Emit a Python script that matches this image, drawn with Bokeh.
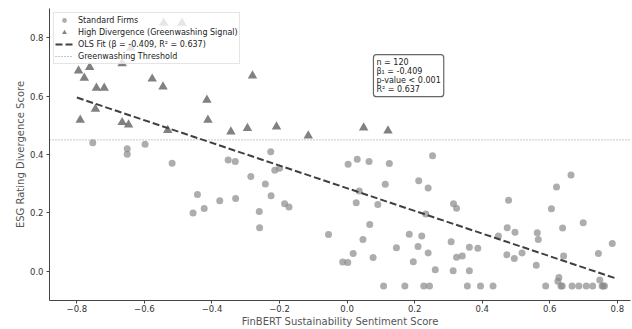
from bokeh.plotting import figure
from bokeh.models import Label, FixedTicker, CustomJSTickFormatter, Range1d
from bokeh.embed import file_html
from bokeh.resources import INLINE

# ---- data ----
std_x = [-0.753, -0.651, -0.651, -0.598, -0.518, -0.226, -0.352, -0.331, -0.214, -0.200,
         -0.285, -0.242, -0.225, -0.443, -0.456, -0.423, -0.377, -0.330, -0.260, -0.259,
         -0.185, -0.172,
         0.003, 0.030, 0.065, 0.125, 0.253,
         0.113, 0.036, 0.027, 0.091, 0.212, 0.240, 0.233, 0.315, 0.324,
         0.067, -0.055, 0.047, 0.018, -0.013, 0.002, 0.077, 0.146, 0.184, 0.221, 0.210, 0.240,
         0.196, 0.261, 0.314, 0.362,
         0.308, 0.362, 0.387, 0.324, 0.341,
         0.478, 0.474, 0.497, 0.448, 0.473, 0.495, 0.518,
         0.563, 0.566, 0.560, 0.605, 0.620, 0.663, 0.638, 0.699, 0.641, 0.627, 0.624, 0.744,
         0.785, 0.748,
         0.108, 0.171, 0.227, 0.244, 0.356, 0.395, 0.432, 0.588, 0.637, 0.633, 0.666, 0.686,
         0.708, 0.727, 0.758, 0.762, 0.755]
std_y = [0.440, 0.420, 0.401, 0.435, 0.370, 0.409, 0.381, 0.376, 0.346, 0.353,
         0.325, 0.299, 0.259, 0.263, 0.200, 0.215, 0.242, 0.249, 0.205, 0.149,
         0.231, 0.220,
         0.367, 0.384, 0.376, 0.369, 0.396,
         0.298, 0.275, 0.235, 0.229, 0.310, 0.285, 0.196, 0.231, 0.216,
         0.160, 0.126, 0.109, 0.061, 0.032, 0.030, 0.047, 0.081, 0.127, 0.121, 0.085, 0.063,
         0.033, 0.005, 0.002, 0.002,
         0.101, 0.082, 0.079, 0.048, 0.052,
         0.243, 0.149, 0.134, 0.121, 0.057, 0.044, 0.063,
         0.132, 0.109, 0.021, 0.214, 0.289, 0.330, 0.148, 0.166, 0.052, -0.021, -0.034, 0.061,
         0.095, -0.030,
         -0.050, -0.050, -0.050, -0.050, -0.050, -0.050, -0.050, -0.050, -0.050, -0.050, -0.050, -0.050,
         -0.050, -0.050, -0.050, -0.050, -0.050]

high_x = [-0.795, -0.778, -0.762, -0.742, -0.719, -0.745, -0.790, -0.666, -0.577, -0.545,
          -0.666, -0.647, -0.531, -0.543, -0.489, -0.640, -0.415, -0.412, -0.344, -0.295,
          -0.280, -0.209, -0.115, 0.049, 0.121]
high_y = [0.687, 0.662, 0.699, 0.628, 0.628, 0.556, 0.518, 0.712, 0.659, 0.632,
          0.510, 0.502, 0.483, 0.850, 0.850, 0.765, 0.587, 0.518, 0.478, 0.490,
          0.670, 0.495, 0.464, 0.492, 0.481]

fit_x = [-0.80, 0.80]
fit_y = [0.595, -0.026]

threshold = 0.45

x_ticks = [-0.8, -0.6, -0.4, -0.2, 0.0, 0.2, 0.4, 0.6, 0.8]
y_ticks = [0.0, 0.2, 0.4, 0.6, 0.8]

stats_lines = ["n = 120", "β₁ = -0.409", "p-value < 0.001", "R² = 0.637"]

FONT = "DejaVu Sans"

xr = Range1d(-0.881, 0.839)
yr = Range1d(-0.100, 0.900)
p = figure(width=632, height=329, output_backend="svg", toolbar_location=None,
           x_range=xr, y_range=yr,
           min_border_left=49, min_border_right=2, min_border_top=8, min_border_bottom=28)
p.outline_line_color = None
p.xgrid.visible = False
p.ygrid.visible = False
p.background_fill_color = "white"

# threshold line across the whole plotting range
p.line(x=[xr.start, xr.end], y=[threshold, threshold], line_color="#8f8f8f",
       line_width=1, line_dash="1 2", legend_label="Greenwashing Threshold")

p.scatter(std_x, std_y, marker="circle", size=7, fill_color="#8a8a8a",
          fill_alpha=0.7, line_color=None, legend_label="Standard Firms")
p.scatter(high_x, high_y, marker="triangle", size=9.5, fill_color="#626262",
          fill_alpha=0.8, line_color=None,
          legend_label="High Divergence (Greenwashing Signal)")
p.line(fit_x, fit_y, line_color="#404040", line_width=2, line_dash="7 3",
       legend_label="OLS Fit (β = -0.409, R² = 0.637)")

# stats box
p.add_layout(Label(x=0.078, y=0.742, text="\n".join(stats_lines), anchor="top_left",
                   text_font=FONT, text_font_size="8px", text_color="#222222",
                   text_line_height=1.0, padding=3,
                   background_fill_color="white", background_fill_alpha=0.9,
                   border_line_color="#666666", border_line_width=1.2, border_radius=3))

fmt = CustomJSTickFormatter(code="return tick.toFixed(1).replace('-', '\u2212');")
for ax, ticks in ((p.xaxis[0], x_ticks), (p.yaxis[0], y_ticks)):
    ax.ticker = FixedTicker(ticks=ticks)
    ax.formatter = fmt
    ax.axis_line_color = "#444444"
    ax.axis_line_width = 1
    ax.major_tick_line_color = "#444444"
    ax.major_tick_out = 3
    ax.major_tick_in = 0
    ax.minor_tick_line_color = None
    ax.major_label_text_font = FONT
    ax.major_label_text_font_size = "8.5px"
    ax.major_label_text_color = "#333333"
    ax.axis_label_text_font = FONT
    ax.axis_label_text_font_size = "10px"
    ax.axis_label_text_font_style = "normal"
    ax.axis_label_text_color = "#555555"

p.xaxis.major_label_standoff = 1
p.yaxis.major_label_standoff = 3
p.xaxis.axis_label = "FinBERT Sustainability Sentiment Score"
p.yaxis.axis_label = "ESG Rating Divergence Score"
p.xaxis.axis_label_standoff = 1
p.yaxis.axis_label_standoff = 1

lg = p.legend[0]
# order legend like the reference
order = ["Standard Firms", "High Divergence (Greenwashing Signal)",
         "OLS Fit (β = -0.409, R² = 0.637)", "Greenwashing Threshold"]
lg.items = sorted(lg.items, key=lambda it: order.index(it.label.value))
lg.location = "top_left"
lg.margin = 4
lg.padding = 1
lg.spacing = 0
lg.label_height = 12
lg.glyph_height = 12
lg.glyph_width = 18
lg.label_standoff = 5
lg.label_text_font = FONT
lg.label_text_font_size = "8px"
lg.label_text_color = "#222222"
lg.border_line_color = "#cccccc"
lg.border_line_width = 1
lg.background_fill_alpha = 0.8

open("out.html", "w").write(file_html(p, INLINE))
